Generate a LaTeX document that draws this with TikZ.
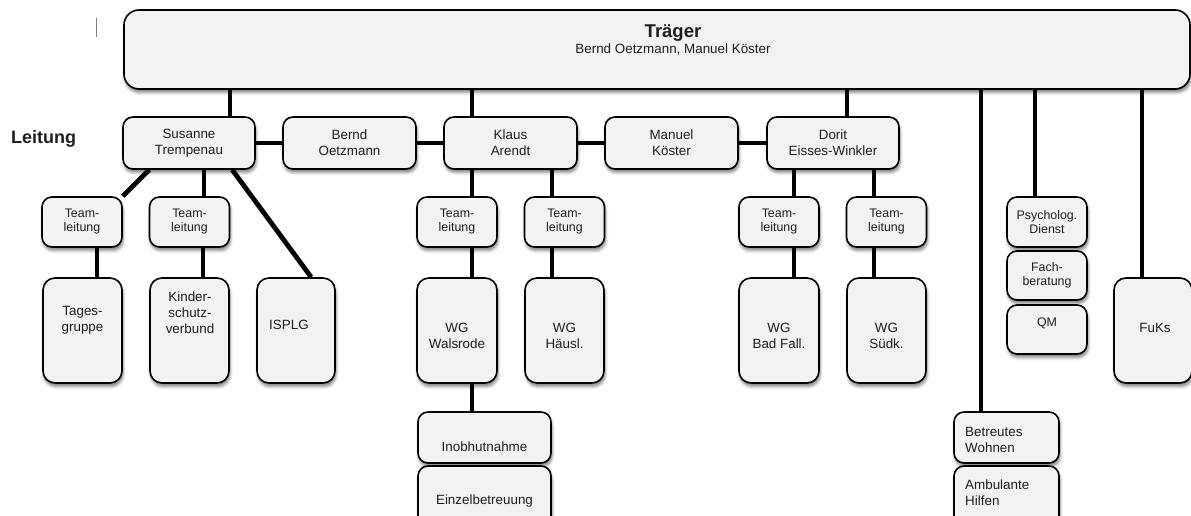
\documentclass[tikz,border=0pt]{standalone}
\usepackage{fontspec}
\setmainfont{Liberation Sans}
\usetikzlibrary{shadows.blur,backgrounds,calc}
\definecolor{boxfill}{RGB}{242,242,242}
\definecolor{txt}{RGB}{30,30,30}
\newcommand\fsz[2]{\fontsize{#1}{#2}\selectfont}
\begin{document}
\begin{tikzpicture}[x=1pt,y=-1pt,
  box/.style={draw, line width=1.6pt, rounded corners=10pt, fill=boxfill, inner sep=0pt,
    align=center, text=txt, font=\fsz{13.4}{16},
    blur shadow={shadow xshift=1pt, shadow yshift=-3.5pt, shadow blur radius=3pt, shadow opacity=50}},
  tlbox/.style={box, font=\fsz{12.4}{14}, minimum width=80pt, minimum height=50pt},
  bigbox/.style={box, rounded corners=12pt, minimum width=79pt, minimum height=105pt},
  lbl/.style={inner sep=0pt, align=center, text=txt, font=\fsz{13.4}{16}},
  conn/.style={line width=4.8pt}]
\useasboundingbox (0,0) rectangle (1191,516);

% Traeger
\node[box, rounded corners=15pt, minimum width=1066pt, minimum height=79pt] (tr) at (657,49.5) {};
\node[lbl, font=\bfseries\fsz{18.5}{20}] (trt) at (673,33) {Träger};
\node[lbl] (trs) at (673,50) {Bernd Oetzmann, Manuel Köster};

% cursor mark
\draw[gray, line width=1pt] (96,18) -- (96,37);

\node[inner sep=0pt, anchor=west, text=txt, font=\bfseries\fsz{18}{20}] (leit) at (11,139) {Leitung};

% Leitung row
\node[box, minimum width=132pt, minimum height=52pt] (sus) at (189,143) {Susanne\\Trempenau};
\node[box, minimum width=133pt, minimum height=52pt] (ber) at (349.5,143) {Bernd\\Oetzmann};
\node[box, minimum width=133pt, minimum height=52pt] (kla) at (510.5,143) {Klaus\\Arendt};
\node[box, minimum width=133pt, minimum height=52pt] (man) at (671.5,143) {Manuel\\Köster};
\node[box, minimum width=132pt, minimum height=52pt] (dor) at (833,143) {Dorit\\Eisses-Winkler};

% Teamleitung row
\node[tlbox] (tl1) at (82,222) {Team-\\leitung};
\node[tlbox] (tl2) at (189.5,222) {Team-\\leitung};
\node[tlbox] (tl3) at (457,222) {Team-\\leitung};
\node[tlbox] (tl4) at (564.5,222) {Team-\\leitung};
\node[tlbox] (tl5) at (779,222) {Team-\\leitung};
\node[tlbox] (tl6) at (886.5,222) {Team-\\leitung};
\node[tlbox] (psy) at (1047,222) {Psycholog.\\Dienst};
\node[tlbox, minimum height=49pt] (fach) at (1047,275.5) {Fach-\\beratung};
\node[tlbox, minimum height=49pt] (qm) at (1047,329.5) {};
\node[lbl, font=\fsz{12.4}{14}] (qmt) at (1047,323) {QM};

% big boxes
\node[bigbox] (tg) at (82.5,330.5) {};
\node[lbl] (tgt) at (82.5,320) {Tages-\\gruppe};
\node[bigbox] (ks) at (189.5,330.5) {};
\node[lbl] (kst) at (190,313) {Kinder-\\schutz-\\verbund};
\node[bigbox, minimum width=78pt] (isp) at (296,330.5) {};
\node[lbl, anchor=west] (ispt) at (269,325) {ISPLG};
\node[bigbox, minimum width=80pt] (wgw) at (457,330.5) {};
\node[lbl] (wgwt) at (457,336) {WG\\Walsrode};
\node[bigbox] (wgh) at (564.5,330.5) {};
\node[lbl] (wght) at (564.5,336) {WG\\Häusl.};
\node[bigbox, minimum width=80pt] (wgb) at (779,330.5) {};
\node[lbl] (wgbt) at (779,336) {WG\\Bad Fall.};
\node[bigbox] (wgs) at (886.5,330.5) {};
\node[lbl] (wgst) at (886.5,336) {WG\\Südk.};
\node[bigbox, minimum width=78pt] (fuks) at (1153,330.5) {};
\node[lbl] (fukst) at (1155,328) {FuKs};

% bottom boxes
\node[box, minimum width=133pt, minimum height=51pt] (inob) at (484.5,437.5) {};
\node[lbl] (inobt) at (484.5,447) {Inobhutnahme};
\node[box, minimum width=133pt, minimum height=60pt] (einz) at (484.5,496) {};
\node[lbl] (einzt) at (484.5,501) {Einzelbetreuung};
\node[box, minimum width=105pt, minimum height=51pt] (bw) at (1006.5,437.5) {};
\node[lbl, anchor=west, align=left] (bwt) at (965,439.5) {Betreutes\\Wohnen};
\node[box, minimum width=105pt, minimum height=60pt] (ah) at (1006.5,496) {};
\node[lbl, anchor=west, align=left] (aht) at (965,493) {Ambulante\\Hilfen};

% connectors
\begin{scope}[on background layer]
  \draw[conn] (sus.east) -- (ber.west);
  \draw[conn] (ber.east) -- (kla.west);
  \draw[conn] (kla.east) -- (man.west);
  \draw[conn] (man.east) -- (dor.west);
  \draw[conn] ([xshift=41pt]sus.north) -- ([xshift=41pt]sus.north |- tr.south);
  \draw[conn] ([xshift=-38.5pt]kla.north) -- ([xshift=-38.5pt]kla.north |- tr.south);
  \draw[conn] ([xshift=14pt]dor.north) -- ([xshift=14pt]dor.north |- tr.south);
  \draw[conn] ([xshift=-25.5pt]bw.north) -- ([xshift=-25.5pt]bw.north |- tr.south);
  \draw[conn] ([xshift=-12pt]psy.north) -- ([xshift=-12pt]psy.north |- tr.south);
  \draw[conn] ([xshift=-11pt]fuks.north) -- ([xshift=-11pt]fuks.north |- tr.south);
  \draw[conn] ($(sus.south west)+(27,0)$) -- (tl1.north east);
  \draw[conn] ([xshift=14.5pt]tl2.north) -- ([xshift=14.5pt]tl2.north |- sus.south);
  \draw[conn] ($(sus.south west)+(110,0)$) -- ($(isp.north west)+(55,0)$);
  \draw[conn] ([xshift=15pt]tl3.north) -- ([xshift=15pt]tl3.north |- kla.south);
  \draw[conn] ([xshift=-12.5pt]tl4.north) -- ([xshift=-12.5pt]tl4.north |- kla.south);
  \draw[conn] ([xshift=15pt]tl5.north) -- ([xshift=15pt]tl5.north |- dor.south);
  \draw[conn] ([xshift=-12.5pt]tl6.north) -- ([xshift=-12.5pt]tl6.north |- dor.south);
  \draw[conn] ([xshift=14.5pt]tg.north) -- ([xshift=14.5pt]tg.north |- tl1.south);
  \draw[conn] ([xshift=13.5pt]ks.north) -- ([xshift=13.5pt]ks.north |- tl2.south);
  \draw[conn] ([xshift=15pt]wgw.north) -- ([xshift=15pt]wgw.north |- tl3.south);
  \draw[conn] ([xshift=-12.5pt]wgh.north) -- ([xshift=-12.5pt]wgh.north |- tl4.south);
  \draw[conn] ([xshift=15pt]wgb.north) -- ([xshift=15pt]wgb.north |- tl5.south);
  \draw[conn] ([xshift=-12.5pt]wgs.north) -- ([xshift=-12.5pt]wgs.north |- tl6.south);
  \draw[conn] ([xshift=-12.5pt]inob.north) -- ([xshift=-12.5pt]inob.north |- wgw.south);
\end{scope}
\end{tikzpicture}
\end{document}
